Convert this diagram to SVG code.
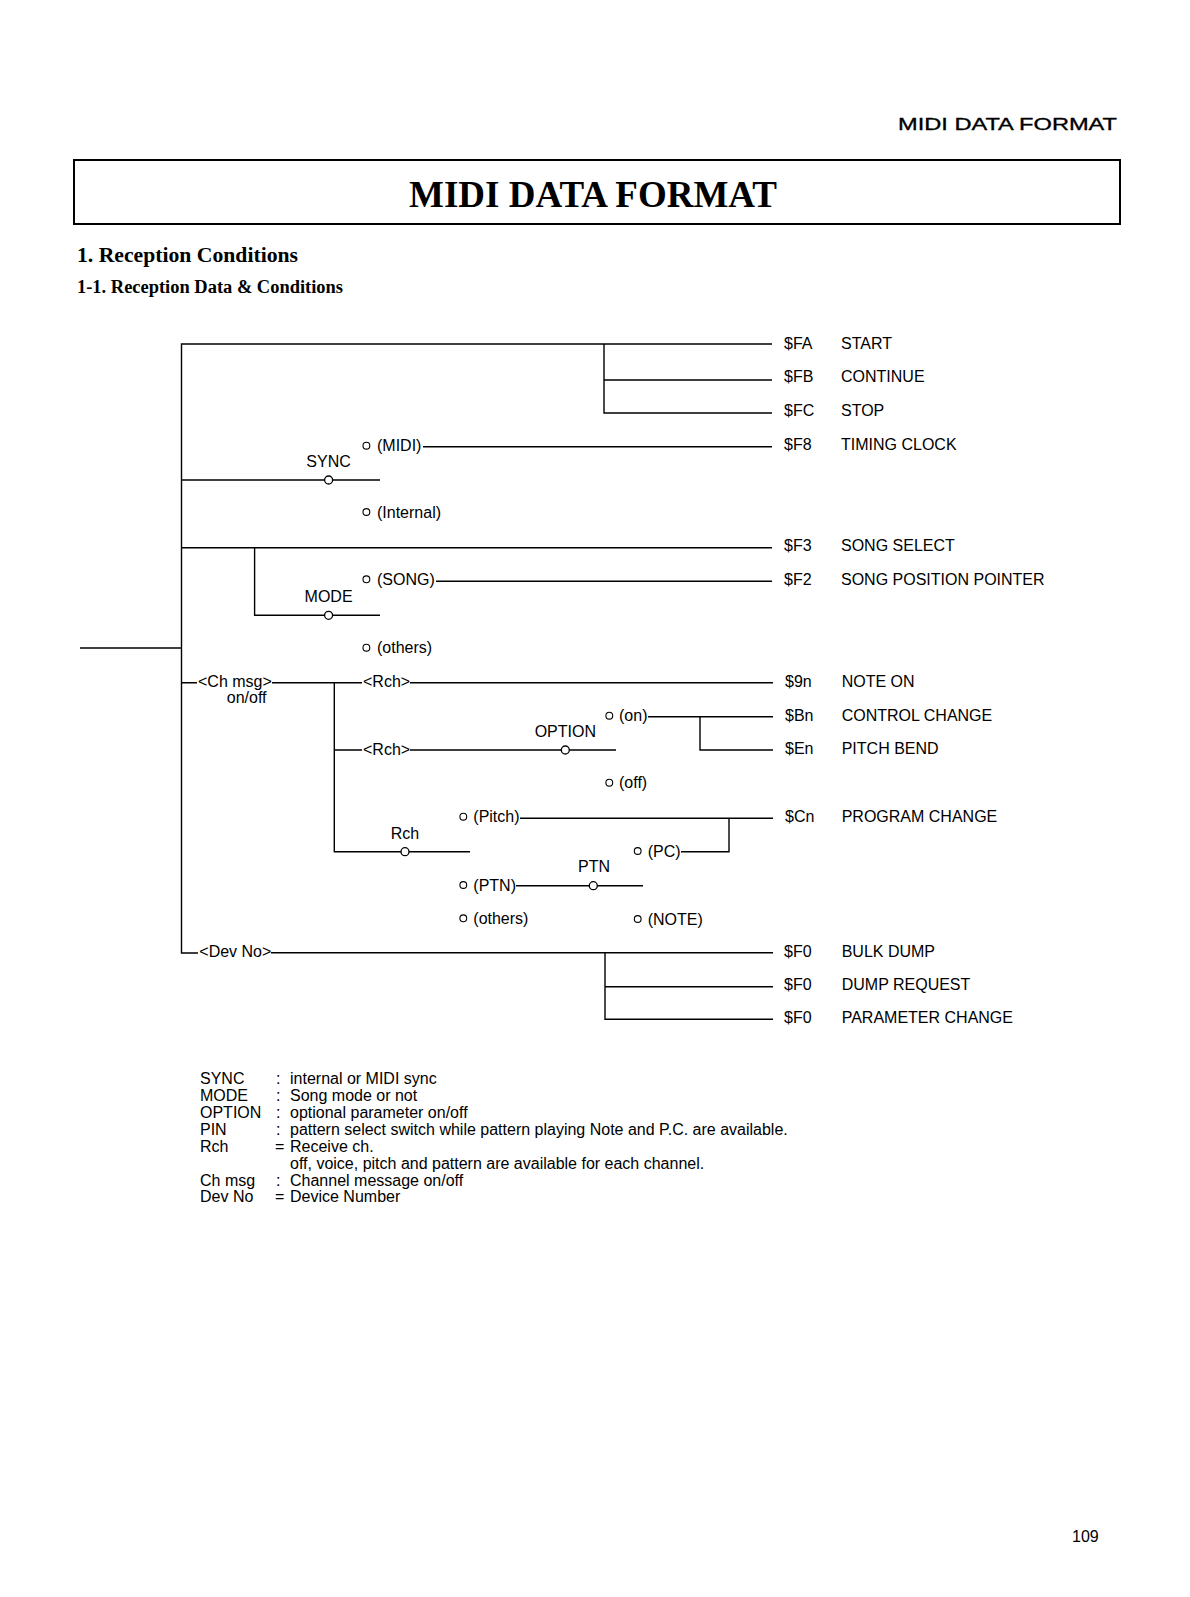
<svg xmlns="http://www.w3.org/2000/svg" width="1190" height="1597" viewBox="0 0 1190 1597">
<style>
  .t{font-family:"Liberation Sans",Arial,sans-serif;font-size:16px;fill:#000}
  .c{text-anchor:middle}
  .h{font-family:"Liberation Serif","Times New Roman",serif;font-weight:bold;fill:#000}
  .ln{fill:none;stroke:#000;stroke-width:1.4}
  .sw{fill:#fff;stroke:#000;stroke-width:1.3}
  .ct{fill:#fff;stroke:#000;stroke-width:1.1}
</style>
<rect x="0" y="0" width="1190" height="1597" fill="#fff"/>

<g id="page-header">
  <text class="t" x="898" y="130" font-size="22" textLength="219" lengthAdjust="spacingAndGlyphs" stroke="#000" stroke-width="0.3">MIDI DATA FORMAT</text>
</g>
<g id="title-box">
  <rect x="74" y="160" width="1046" height="64" fill="none" stroke="#000" stroke-width="2"/>
  <text class="h" x="593" y="207" font-size="37" text-anchor="middle">MIDI DATA FORMAT</text>
</g>
<g id="headings">
  <text class="h" x="77" y="262" font-size="20" textLength="221" lengthAdjust="spacingAndGlyphs">1.  Reception  Conditions</text>
  <text class="h" x="77" y="293" font-size="18" textLength="266" lengthAdjust="spacingAndGlyphs">1-1. Reception Data &amp; Conditions</text>
</g>

<g id="connectors">
  <path class="ln" d="M80,648 H181.5"/>
  <path class="ln" d="M772,344 H181.5 V953 H198" stroke-width="1.8"/>
  <path class="ln" d="M604,344 V413 H772 M604,380 H772"/>
  <path class="ln" d="M423,446.7 H772"/>
  <path class="ln" d="M181.5,480 H380"/>
  <path class="ln" d="M181.5,547.7 H772"/>
  <path class="ln" d="M254.6,547.7 V615.3 H380"/>
  <path class="ln" d="M436,581.3 H772"/>
  <path class="ln" d="M181.5,682.7 H197 M272,682.7 H362 M410,682.7 H773"/>
  <path class="ln" d="M334.3,682.7 V851.7 H470"/>
  <path class="ln" d="M334.3,750 H362 M410,750 H616"/>
  <path class="ln" d="M648,716.7 H773 M700,716.7 V750 H773"/>
  <path class="ln" d="M520,818.3 H773 M729,818.3 V851.7 H681"/>
  <path class="ln" d="M516,885.7 H643"/>
  <path class="ln" d="M271,952.7 H773 M605,952.7 V1019.3 H773 M605,986.7 H773"/>
</g>

<g id="sync-switch">
  <circle class="sw" cx="328.6" cy="480" r="4"/>
  <text class="t c" x="328.6" y="466.5">SYNC</text>
  <circle class="ct" cx="366.4" cy="445.7" r="3.4"/>
  <text class="t" x="377" y="451">(MIDI)</text>
  <circle class="ct" cx="366.4" cy="512" r="3.4"/>
  <text class="t" x="377" y="517.5">(Internal)</text>
</g>
<g id="mode-switch">
  <circle class="sw" cx="328.6" cy="615.3" r="4"/>
  <text class="t c" x="328.6" y="601.5">MODE</text>
  <circle class="ct" cx="366.4" cy="579.3" r="3.4"/>
  <text class="t" x="377" y="585">(SONG)</text>
  <circle class="ct" cx="366.4" cy="647.7" r="3.4"/>
  <text class="t" x="377" y="653">(others)</text>
</g>
<g id="ch-msg">
  <text class="t" x="198" y="687">&lt;Ch msg&gt;</text>
  <text class="t c" x="246.7" y="703">on/off</text>
</g>
<g id="rch-1">
  <text class="t" x="363" y="687">&lt;Rch&gt;</text>
</g>
<g id="rch-2">
  <text class="t" x="363" y="755">&lt;Rch&gt;</text>
</g>
<g id="option-switch">
  <circle class="sw" cx="565.3" cy="750" r="4"/>
  <text class="t c" x="565.3" y="736.5">OPTION</text>
  <circle class="ct" cx="609.3" cy="715.7" r="3.4"/>
  <text class="t" x="619" y="721">(on)</text>
  <circle class="ct" cx="609.3" cy="782.7" r="3.4"/>
  <text class="t" x="619" y="788">(off)</text>
</g>
<g id="rch-switch">
  <circle class="sw" cx="405" cy="851.7" r="4"/>
  <text class="t c" x="405" y="838.5">Rch</text>
  <circle class="ct" cx="463.3" cy="816.7" r="3.4"/>
  <text class="t" x="473.3" y="822">(Pitch)</text>
  <circle class="ct" cx="463.3" cy="885" r="3.4"/>
  <text class="t" x="473.3" y="890.5">(PTN)</text>
  <circle class="ct" cx="463.3" cy="918.3" r="3.4"/>
  <text class="t" x="473.3" y="924">(others)</text>
</g>
<g id="ptn-switch">
  <circle class="sw" cx="593.3" cy="885.7" r="4"/>
  <text class="t c" x="594" y="872">PTN</text>
  <circle class="ct" cx="637.7" cy="851" r="3.4"/>
  <text class="t" x="647.7" y="856.5">(PC)</text>
  <circle class="ct" cx="637.7" cy="919" r="3.4"/>
  <text class="t" x="647.7" y="924.5">(NOTE)</text>
</g>
<g id="dev-no">
  <text class="t" x="199.3" y="957">&lt;Dev No&gt;</text>
</g>

<g id="msg-start"><text class="t" x="784" y="348.5">$FA</text><text class="t" x="841" y="348.5">START</text></g>
<g id="msg-continue"><text class="t" x="784" y="382">$FB</text><text class="t" x="841" y="382">CONTINUE</text></g>
<g id="msg-stop"><text class="t" x="784" y="416">$FC</text><text class="t" x="841" y="416">STOP</text></g>
<g id="msg-clock"><text class="t" x="784" y="450">$F8</text><text class="t" x="841" y="450">TIMING CLOCK</text></g>
<g id="msg-songsel"><text class="t" x="784" y="551">$F3</text><text class="t" x="841" y="551">SONG SELECT</text></g>
<g id="msg-spp"><text class="t" x="784" y="585">$F2</text><text class="t" x="841" y="585">SONG POSITION POINTER</text></g>
<g id="msg-noteon"><text class="t" x="785" y="686.7">$9n</text><text class="t" x="841.7" y="686.7">NOTE ON</text></g>
<g id="msg-cc"><text class="t" x="785" y="720.7">$Bn</text><text class="t" x="841.7" y="720.7">CONTROL CHANGE</text></g>
<g id="msg-pb"><text class="t" x="785" y="754">$En</text><text class="t" x="841.7" y="754">PITCH BEND</text></g>
<g id="msg-pc"><text class="t" x="785" y="822.4">$Cn</text><text class="t" x="841.7" y="822.4">PROGRAM CHANGE</text></g>
<g id="msg-bulk"><text class="t" x="784" y="956.7">$F0</text><text class="t" x="841.7" y="956.7">BULK DUMP</text></g>
<g id="msg-dumpreq"><text class="t" x="784" y="990">$F0</text><text class="t" x="841.7" y="990">DUMP REQUEST</text></g>
<g id="msg-param"><text class="t" x="784" y="1023">$F0</text><text class="t" x="841.7" y="1023">PARAMETER CHANGE</text></g>

<g id="legend">
  <text class="t" x="200" y="1084">SYNC</text><text class="t" x="276" y="1084">:</text><text class="t" x="290" y="1084">internal or MIDI sync</text>
  <text class="t" x="200" y="1101">MODE</text><text class="t" x="276" y="1101">:</text><text class="t" x="290" y="1101">Song mode or not</text>
  <text class="t" x="200" y="1118">OPTION</text><text class="t" x="276" y="1118">:</text><text class="t" x="290" y="1118">optional parameter on/off</text>
  <text class="t" x="200" y="1135">PIN</text><text class="t" x="276" y="1135">:</text><text class="t" x="290" y="1135">pattern select switch while pattern playing Note and P.C. are available.</text>
  <text class="t" x="200" y="1152">Rch</text><text class="t" x="275" y="1152">=</text><text class="t" x="290" y="1152">Receive ch.</text>
  <text class="t" x="290" y="1169">off, voice, pitch and pattern are available for each channel.</text>
  <text class="t" x="200" y="1186">Ch msg</text><text class="t" x="276" y="1186">:</text><text class="t" x="290" y="1186">Channel message on/off</text>
  <text class="t" x="200" y="1202">Dev No</text><text class="t" x="275" y="1202">=</text><text class="t" x="290" y="1202">Device Number</text>
</g>

<g id="page-number">
  <text class="t" x="1072" y="1542" font-size="22">109</text>
</g>
</svg>
